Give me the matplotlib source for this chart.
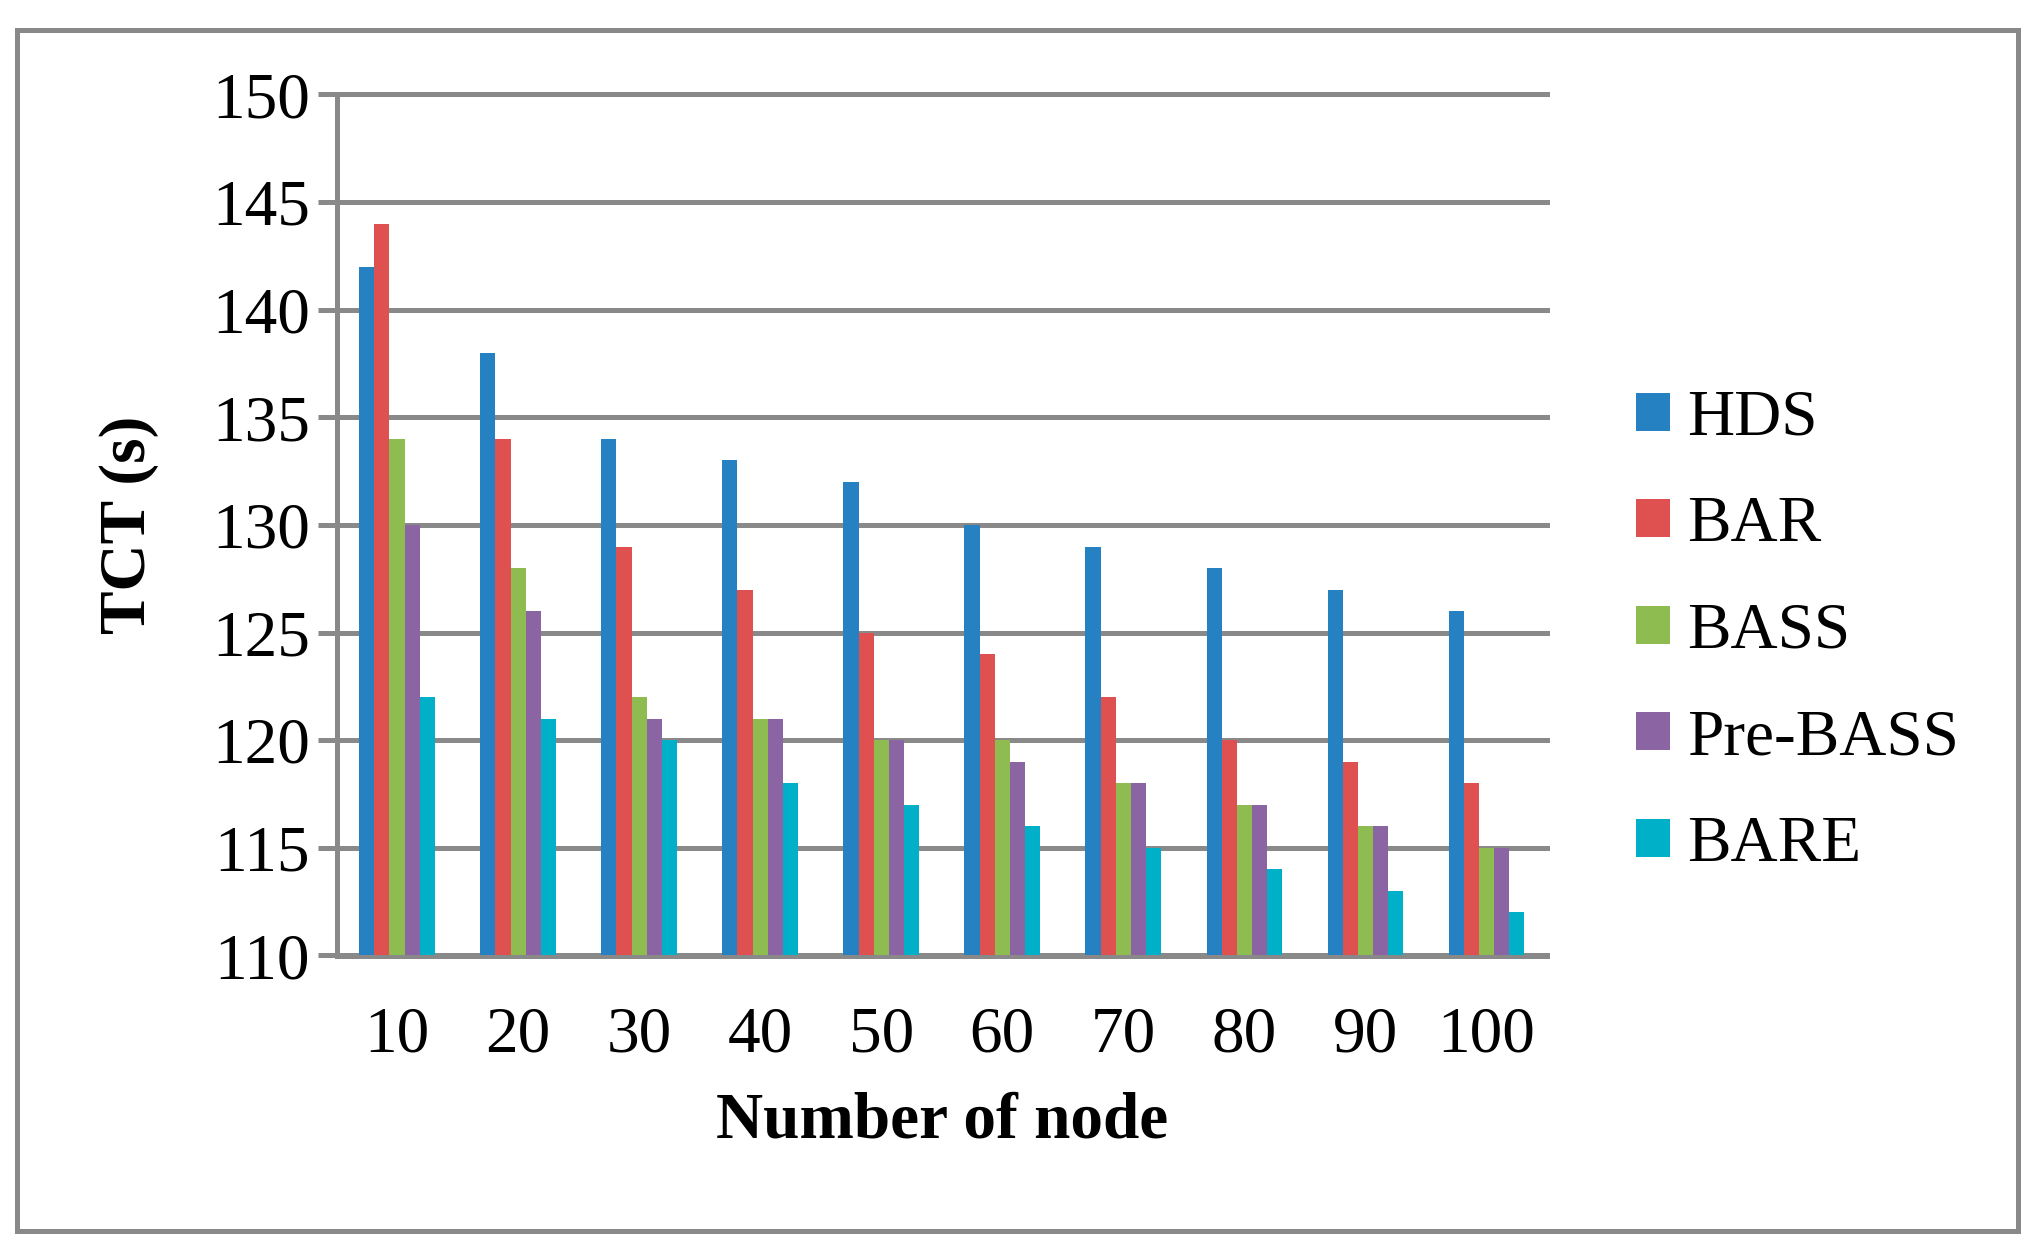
import numpy as np
import matplotlib.pyplot as plt
from matplotlib.patches import Rectangle

# 資料
nodes = ['10', '20', '30', '40', '50', '60', '70', '80', '90', '100']
series = ['HDS', 'BAR', 'BASS', 'Pre-BASS', 'BARE']
hds = [142, 138, 134, 133, 132, 130, 129, 128, 127, 126]
bar = [144, 134, 129, 127, 125, 124, 122, 120, 119, 118]
bass = [134, 128, 122, 121, 120, 120, 118, 117, 116, 115]
pre_bass = [130, 126, 121, 121, 120, 119, 118, 117, 116, 115]
bare = [122, 121, 120, 118, 117, 116, 115, 114, 113, 112]
colors = ['#2581C1', '#DE5150', '#8FBC50', '#8B65A3', '#00AFC8']

plt.rcParams['font.family'] = ['Liberation Serif', 'DejaVu Serif']
W, H = 2041, 1250
fig = plt.figure(figsize=(W / 100, H / 100), dpi=100)
grey = '#898989'
fs = 47

# 外框
fig.patches.append(Rectangle((16.5 / W, 1 - 1231 / H), (2018 - 16.5) / W, (1231 - 30) / H,
                             transform=fig.transFigure, fill=False, edgecolor=grey, linewidth=3.6))

ax = fig.add_axes([336.5 / W, 1 - 955.5 / H, (1547 - 336.5) / W, (955.5 - 94.5) / H])
index = np.arange(len(nodes))
bar_width = 0.125
for k, (vals, name) in enumerate(zip([hds, bar, bass, pre_bass, bare], series)):
    ax.bar(index + (k - 2) * bar_width, np.array(vals) - 110, bottom=110, width=bar_width,
           color=colors[k], label=name, zorder=3)

ax.set_xlim(-0.5, len(nodes) - 0.5)
ax.set_ylim(110, 150)
ax.set_yticks(range(110, 151, 5))
ax.set_xticks(index, labels=nodes)
ax.yaxis.grid(True, color=grey, linewidth=3.6)
for gl in ax.get_ygridlines():
    gl.set_clip_on(False)
ax.set_axisbelow(True)
for s in ['top', 'right']:
    ax.spines[s].set_visible(False)
for s in ['left', 'bottom']:
    ax.spines[s].set_color(grey)
    ax.spines[s].set_linewidth(3.6)
ax.tick_params(axis='y', length=14, width=3.6, color=grey, pad=5, labelsize=fs)
ax.tick_params(axis='x', length=0, pad=36, labelsize=fs)

ax.set_xlabel('Number of node', fontsize=fs, fontweight='bold', labelpad=19)
ax.set_ylabel('TCT (s)', fontsize=fs, fontweight='bold', labelpad=38)

ax.legend(loc='center left', bbox_to_anchor=(1636 / W, 1 - 632 / H), bbox_transform=fig.transFigure,
          frameon=False, fontsize=fs, handlelength=0.52, handleheight=0.52, handletextpad=0.26,
          labelspacing=0.72, borderpad=0, borderaxespad=0)

plt.savefig('out.png', dpi=100)
plt.close()
